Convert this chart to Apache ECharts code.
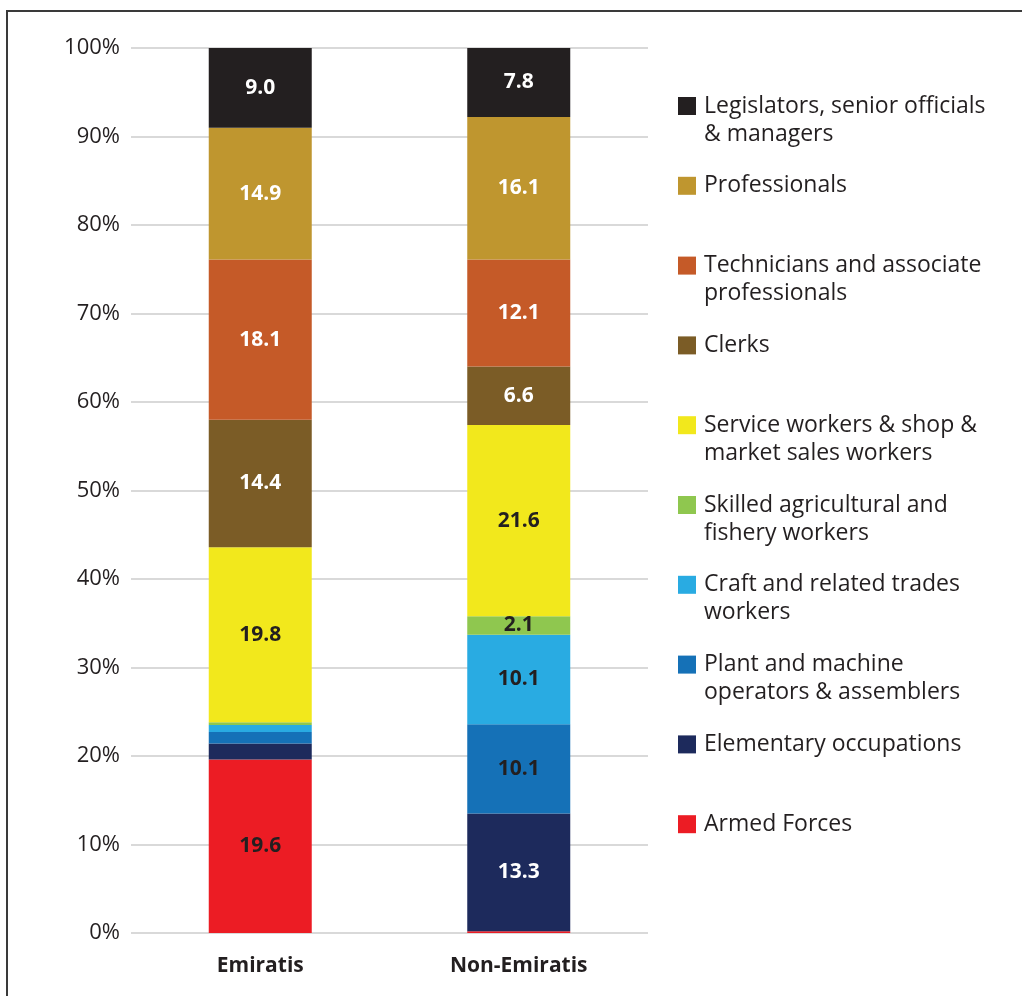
<!DOCTYPE html>
<html>
<head>
<meta charset="utf-8">
<script src="https://cdn.jsdelivr.net/npm/echarts@6/dist/echarts.min.js"></script>
<style>
  html, body { margin: 0; padding: 0; background: #fff; }
  #frame { position: absolute; left: 6px; top: 10px; width: 1030px; height: 1000px;
           border-top: 2px solid #3a3a3a; border-left: 2px solid #3a3a3a; box-sizing: border-box; }
  #chart { position: absolute; left: 0; top: 0; width: 1022px; height: 996px; }
</style>
</head>
<body>
<div id="frame"></div>
<div id="chart"></div>
<script>
const categories = ['Emiratis', 'Non-Emiratis'];
const yTicks = [0, 10, 20, 30, 40, 50, 60, 70, 80, 90, 100];

const armedForces   = [19.6, 0.2];
const elementary    = [1.8, 13.3];
const plantOps      = [1.3, 10.1];
const craftWorkers  = [0.8, 10.1];
const skilledAgri   = [0.3, 2.1];
const serviceShop   = [19.8, 21.6];
const clerks        = [14.4, 6.6];
const technicians   = [18.1, 12.1];
const professionals = [14.9, 16.1];
const legislators   = [9.0, 7.8];

const seriesDefs = [
  { name: 'Armed Forces', data: armedForces, color: '#ec1c24', label: '#231f20', lines: ['Armed Forces'] },
  { name: 'Elementary occupations', data: elementary, color: '#1d2a5c', label: '#ffffff', lines: ['Elementary occupations'] },
  { name: 'Plant and machine operators & assemblers', data: plantOps, color: '#1571b7', label: '#231f20', lines: ['Plant and machine', 'operators & assemblers'] },
  { name: 'Craft and related trades workers', data: craftWorkers, color: '#29abe2', label: '#231f20', lines: ['Craft and related trades', 'workers'] },
  { name: 'Skilled agricultural and fishery workers', data: skilledAgri, color: '#8fc74f', label: '#231f20', lines: ['Skilled agricultural and', 'fishery workers'] },
  { name: 'Service workers & shop & market sales workers', data: serviceShop, color: '#f2e81c', label: '#231f20', lines: ['Service workers & shop &', 'market sales workers'] },
  { name: 'Clerks', data: clerks, color: '#7b5c26', label: '#ffffff', lines: ['Clerks'] },
  { name: 'Technicians and associate professionals', data: technicians, color: '#c55a28', label: '#ffffff', lines: ['Technicians and associate', 'professionals'] },
  { name: 'Professionals', data: professionals, color: '#bf962f', label: '#ffffff', lines: ['Professionals'] },
  { name: 'Legislators, senior officials & managers', data: legislators, color: '#231f20', label: '#ffffff', lines: ['Legislators, senior officials', '& managers'] }
];

const legendLines = {};
seriesDefs.forEach(s => { legendLines[s.name] = s.lines; });

const chart = echarts.init(document.getElementById('chart'));
chart.setOption({
  animation: false,
  textStyle: { fontFamily: 'Open Sans' },
  grid: { left: 131, right: 374, top: 48, bottom: 63 },
  legend: {
    orient: 'vertical',
    left: 678,
    top: 64,
    padding: 0,
    itemWidth: 18,
    itemHeight: 18,
    itemGap: -4.2,
    icon: 'rect',
    data: seriesDefs.slice().reverse().map(s => s.name),
    formatter: function (name) {
      const l = legendLines[name];
      return l.length === 2 ? ' \n' + l[0] + '\n' + l[1] : ' \n' + l[0] + '\n ';
    },
    textStyle: { fontFamily: 'Open Sans', fontSize: 23, lineHeight: 28, color: '#231f20', padding: [0, 0, 0, 3] }
  },
  xAxis: {
    type: 'category',
    data: categories,
    axisLine: { show: false },
    axisTick: { show: false },
    axisLabel: { fontFamily: 'Open Sans', fontWeight: 'bold', fontSize: 21, color: '#231f20', margin: 23 }
  },
  yAxis: {
    type: 'value',
    min: yTicks[0],
    max: yTicks[yTicks.length - 1],
    interval: 10,
    axisLine: { show: false },
    axisTick: { show: false },
    axisLabel: { formatter: '{value}%', fontFamily: 'Open Sans', fontSize: 22, color: '#231f20', margin: 11 },
    splitLine: { lineStyle: { color: '#d9d9d9', width: 2 } }
  },
  series: seriesDefs.map(s => ({
    name: s.name,
    type: 'bar',
    stack: 'total',
    barWidth: 103,
    data: s.data,
    itemStyle: { color: s.color },
    label: {
      show: true,
      position: 'inside',
      color: s.label,
      fontFamily: 'Open Sans',
      fontWeight: 'bold',
      fontSize: 21,
      formatter: p => (p.value >= 2 ? p.value.toFixed(1) : '')
    }
  }))
});
</script>
</body>
</html>
